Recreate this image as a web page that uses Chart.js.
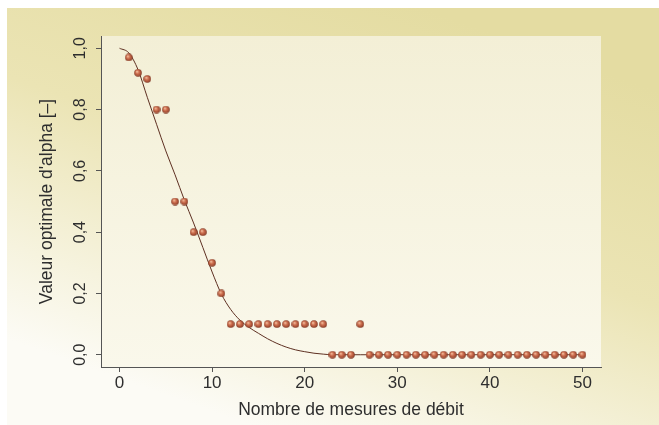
<!DOCTYPE html>
<html>
<head>
<meta charset="utf-8">
<script src="https://cdn.jsdelivr.net/npm/chart.js@4/dist/chart.umd.min.js"></script>
<style>
  html, body { margin: 0; padding: 0; background: #ffffff; }
  #wrap { width: 659px; height: 425px; }
</style>
</head>
<body>
<div id="wrap"><canvas id="c" width="659" height="425"></canvas></div>
<script>
// Number of flow measurements and the optimal alpha found for each
const measureCounts = [
  1, 2, 3, 4, 5, 6, 7, 8, 9, 10,
  11, 12, 13, 14, 15, 16, 17, 18, 19, 20,
  21, 22, 23, 24, 25, 26, 27, 28, 29, 30,
  31, 32, 33, 34, 35, 36, 37, 38, 39, 40,
  41, 42, 43, 44, 45, 46, 47, 48, 49, 50
];
const alphaValues = [
  0.97, 0.92, 0.90, 0.80, 0.80, 0.50, 0.50, 0.40, 0.40, 0.30,
  0.20, 0.10, 0.10, 0.10, 0.10, 0.10, 0.10, 0.10, 0.10, 0.10,
  0.10, 0.10, 0.00, 0.00, 0.00, 0.10, 0.00, 0.00, 0.00, 0.00,
  0.00, 0.00, 0.00, 0.00, 0.00, 0.00, 0.00, 0.00, 0.00, 0.00,
  0.00, 0.00, 0.00, 0.00, 0.00, 0.00, 0.00, 0.00, 0.00, 0.00
];

// Fitted decay curve
const fitX = [0, 1, 2, 3, 4, 5, 6, 7, 8, 9, 10, 11, 12, 13, 14, 15, 16, 17, 18, 19, 20, 21, 22, 23, 24, 26, 30, 40, 50];
const fitY = [1.0, 0.985, 0.93, 0.84, 0.752, 0.665, 0.587, 0.505, 0.43, 0.35, 0.27, 0.198, 0.148, 0.113, 0.089, 0.07, 0.052, 0.037, 0.025, 0.016, 0.01, 0.005, 0.002, 0, 0, 0, 0, 0, 0];

// Axis ticks
const xTickValues = [0, 10, 20, 30, 40, 50];
const yTickValues = [0, 0.2, 0.4, 0.6, 0.8, 1.0];

const xTitle = 'Nombre de mesures de débit';
const yTitle = "Valeur optimale d'alpha [–]";

const FONT = 'Liberation Sans, Arial, Helvetica, sans-serif';
const TEXT = '#2e2e2e';
const AXIS = '#555555';

// Small shaded ball used as the point marker
function ballSprite(d) {
  const cv = document.createElement('canvas');
  cv.width = d; cv.height = d;
  const g = cv.getContext('2d');
  const r = d / 2;
  const grad = g.createRadialGradient(r * 0.72, r * 0.66, 0.2, r, r, r);
  grad.addColorStop(0, '#f6c8a8');
  grad.addColorStop(0.38, '#d27454');
  grad.addColorStop(0.78, '#a44c32');
  grad.addColorStop(1, '#6e2e1e');
  g.fillStyle = grad;
  g.beginPath();
  g.arc(r, r, r - 0.2, 0, Math.PI * 2);
  g.fill();
  return cv;
}

// Page and panel backgrounds
const backdrop = {
  id: 'backdrop',
  beforeDraw(chart) {
    const { ctx, chartArea: a, width, height } = chart;
    ctx.save();
    ctx.fillStyle = '#ffffff';
    ctx.fillRect(0, 0, width, height);
    const g = ctx.createLinearGradient(400, 0, 250, height);
    g.addColorStop(0, '#e4dca2');
    g.addColorStop(0.45, '#ebe4b4');
    g.addColorStop(0.8, '#f6f3de');
    g.addColorStop(1, '#fcfbf5');
    ctx.fillStyle = g;
    ctx.fillRect(7, 8, width - 7, height - 8);
    const p = ctx.createLinearGradient(0, a.top, 0, a.bottom);
    p.addColorStop(0, '#f3efd6');
    p.addColorStop(1, '#faf8eb');
    ctx.fillStyle = p;
    ctx.fillRect(a.left, a.top, a.right - a.left, a.bottom - a.top);
    ctx.restore();
  }
};

new Chart(document.getElementById('c'), {
  type: 'scatter',
  data: {
    datasets: [
      {
        label: 'alpha',
        data: measureCounts.map((n, i) => ({ x: n, y: alphaValues[i] })),
        pointStyle: ballSprite(8),
        pointRadius: 4,
        showLine: false
      },
      {
        label: 'ajustement',
        data: fitX.map((x, i) => ({ x: x, y: fitY[i] })),
        showLine: true,
        borderColor: '#5e3022',
        borderWidth: 1,
        pointRadius: 0,
        cubicInterpolationMode: 'monotone',
        fill: false
      }
    ]
  },
  options: {
    responsive: false,
    animation: false,
    devicePixelRatio: 1,
    layout: { padding: { top: 36, right: 58, left: 0, bottom: 0 } },
    plugins: {
      legend: { display: false },
      tooltip: { enabled: false }
    },
    scales: {
      x: {
        type: 'linear',
        min: -2,
        max: 52,
        afterBuildTicks: s => { s.ticks = xTickValues.map(v => ({ value: v })); },
        afterFit: s => { s.height = 58; },
        ticks: {
          font: { family: FONT, size: 17 },
          color: TEXT,
          padding: 1,
          callback: v => String(v)
        },
        grid: { drawOnChartArea: false, drawTicks: true, tickLength: 5, color: AXIS },
        border: { display: true, color: AXIS, width: 1 },
        title: {
          display: true,
          text: xTitle,
          color: TEXT,
          font: { family: FONT, size: 17.5 },
          padding: { top: 0, bottom: 4 }
        }
      },
      y: {
        type: 'linear',
        min: -0.04,
        max: 1.04,
        afterBuildTicks: s => { s.ticks = yTickValues.map(v => ({ value: v })); },
        afterFit: s => { s.width = 101; },
        ticks: {
          font: { family: FONT, size: 16 },
          color: TEXT,
          padding: 4,
          minRotation: 90,
          maxRotation: 90,
          crossAlign: 'center',
          callback: v => v.toFixed(1).replace('.', ',')
        },
        grid: { drawOnChartArea: false, drawTicks: true, tickLength: 5, color: AXIS },
        border: { display: true, color: AXIS, width: 1 },
        title: {
          display: true,
          text: yTitle,
          color: TEXT,
          font: { family: FONT, size: 17.5 },
          padding: { top: 37, bottom: 0 }
        }
      }
    }
  },
  plugins: [backdrop]
});
</script>
</body>
</html>
